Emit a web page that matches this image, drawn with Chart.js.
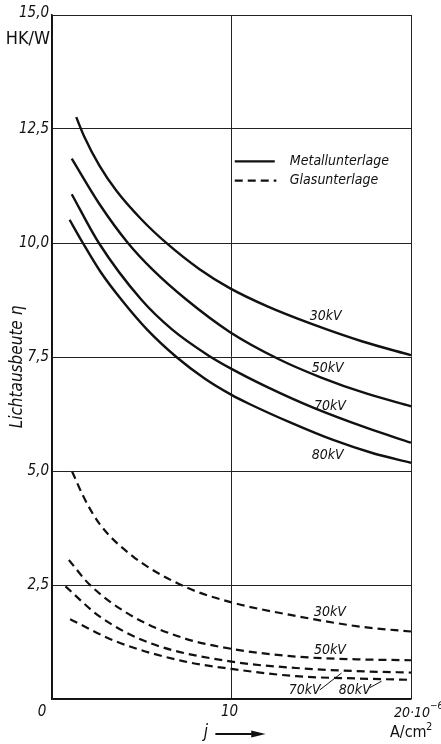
<!DOCTYPE html>
<html>
<head>
<meta charset="utf-8">
<script src="https://cdn.jsdelivr.net/npm/chart.js@4.4.1/dist/chart.umd.min.js"></script>
<style>
  html, body { margin: 0; padding: 0; background: #fff; }
  #chart { display: block; }
</style>
</head>
<body>
<canvas id="chart" width="441" height="744"></canvas>
<script>
// Lichtausbeute eta (HK/W) vs. current density j (10^-6 A/cm^2)
const kvLabels = ['30kV', '50kV', '70kV', '80kV'];

// Metallunterlage (solid)
const metall30J   = [1.35, 1.8, 2.65, 3.6, 5.0, 6.4, 8.2, 9.9, 12.0, 14.5, 17.3, 20.0];
const metall30Eta = [12.76, 12.33, 11.69, 11.14, 10.51, 9.99, 9.43, 9.01, 8.61, 8.22, 7.84, 7.54];
const metall50J   = [1.1, 2.65, 4.23, 5.62, 7.48, 9.9, 12.7, 15.0, 17.5, 20.0];
const metall50Eta = [11.85, 10.85, 10.0, 9.41, 8.76, 8.05, 7.44, 7.05, 6.7, 6.42];
const metall70J   = [1.1, 2.61, 4.97, 6.7, 8.69, 10.0, 12.0, 14.55, 17.5, 20.0];
const metall70Eta = [11.07, 10.0, 8.76, 8.1, 7.54, 7.24, 6.84, 6.39, 5.95, 5.62];
const metall80J   = [0.98, 1.72, 2.7, 3.86, 5.3, 6.93, 8.5, 10.0, 11.0, 13.3, 15.66, 17.8, 20.0];
const metall80Eta = [10.51, 10.0, 9.37, 8.76, 8.1, 7.5, 7.03, 6.67, 6.47, 6.06, 5.68, 5.4, 5.18];

// Glasunterlage (dashed)
const glas30J   = [1.12, 1.8, 2.65, 4.5, 7.3, 10.0, 13.6, 17.3, 20.0];
const glas30Eta = [4.99, 4.40, 3.84, 3.13, 2.48, 2.12, 1.82, 1.58, 1.48];
const glas50J   = [0.94, 2.09, 4.5, 7.3, 10.0, 13.6, 17.0, 20.0];
const glas50Eta = [3.05, 2.51, 1.81, 1.34, 1.1, 0.93, 0.87, 0.85];
const glas70J   = [0.75, 2.65, 5.44, 10.0, 13.6, 17.0, 20.0];
const glas70Eta = [2.47, 1.81, 1.23, 0.82, 0.68, 0.61, 0.58];
const glas80J   = [1.01, 3.58, 7.3, 10.0, 13.6, 17.0, 20.0];
const glas80Eta = [1.75, 1.26, 0.83, 0.66, 0.5, 0.45, 0.42];

const yTicks = [2.5, 5.0, 7.5, 10.0, 12.5, 15.0];
const xTickLabels = [[0, '0'], [10, '10']];

const FONT = "'DejaVu Sans Condensed', 'Liberation Sans Narrow', 'DejaVu Sans', sans-serif";
const INK = '#111';

function pts(js, etas) {
  return js.map((j, i) => ({ x: j, y: etas[i] }));
}

function curve(js, etas, dashed) {
  return {
    data: pts(js, etas),
    borderColor: INK,
    borderWidth: dashed ? 2.2 : 2.4,
    borderDash: dashed ? [8, 5] : [],
    pointRadius: 0,
    fill: false,
    cubicInterpolationMode: 'monotone'
  };
}

const datasets = [
  curve(metall30J, metall30Eta, false),
  curve(metall50J, metall50Eta, false),
  curve(metall70J, metall70Eta, false),
  curve(metall80J, metall80Eta, false),
  curve(glas30J, glas30Eta, true),
  curve(glas50J, glas50Eta, true),
  curve(glas70J, glas70Eta, true),
  curve(glas80J, glas80Eta, true)
];

// curve labels at data positions
const solidLabelPos = [[15.25, 8.4], [15.36, 7.24], [15.48, 6.41], [15.36, 5.35]];
const dashLabelPos  = [[15.48, 1.91], [15.48, 1.06], [14.08, 0.18], [16.87, 0.2]];

const annotate = {
  id: 'annotate',
  afterDraw(chart) {
    const ctx = chart.ctx;
    const xs = chart.scales.x, ys = chart.scales.y;
    const area = chart.chartArea;
    const px = v => xs.getPixelForValue(v);
    const py = v => ys.getPixelForValue(v);
    ctx.save();
    ctx.fillStyle = INK;
    ctx.strokeStyle = INK;

    // y tick labels
    ctx.font = 'italic 15px ' + FONT;
    ctx.textAlign = 'right';
    ctx.textBaseline = 'middle';
    yTicks.forEach(v => {
      const y = v === 15 ? py(v) - 2 : py(v);
      ctx.fillText(v.toFixed(1).replace('.', ','), area.left - 3, y);
    });
    ctx.font = '18px ' + FONT;
    ctx.fillText('HK/W', area.left - 2, py(15) + 24);

    // x tick labels
    ctx.font = 'italic 15px ' + FONT;
    ctx.textAlign = 'center';
    ctx.textBaseline = 'top';
    xTickLabels.forEach(([v, t]) => {
      const x = v === 0 ? px(v) - 10 : px(v) - 2;
      ctx.fillText(t, x, area.bottom + 6);
    });
    ctx.textAlign = 'left';
    ctx.font = 'italic 14px ' + FONT;
    const mainW = ctx.measureText('20·10').width;
    const x20 = px(20) - 17;
    ctx.fillText('20·10', x20, area.bottom + 7);
    ctx.font = 'italic 10px ' + FONT;
    ctx.fillText('−6', x20 + mainW, area.bottom + 2);

    // x axis title
    ctx.font = 'italic 17px ' + FONT;
    ctx.textAlign = 'left';
    ctx.fillText('j', px(8.45), area.bottom + 25);
    ctx.lineWidth = 1.8;
    ctx.beginPath();
    ctx.moveTo(px(9.1), area.bottom + 35);
    ctx.lineTo(px(11.3), area.bottom + 35);
    ctx.stroke();
    ctx.beginPath();
    ctx.moveTo(px(11.9), area.bottom + 35);
    ctx.lineTo(px(11.1), area.bottom + 31.5);
    ctx.lineTo(px(11.1), area.bottom + 38.5);
    ctx.closePath();
    ctx.fill();
    ctx.font = '16px ' + FONT;
    ctx.fillText('A/cm', px(20) - 21, area.bottom + 26);
    ctx.font = '11px ' + FONT;
    ctx.fillText('2', px(20) + 15, area.bottom + 23);

    // y axis title
    ctx.save();
    ctx.translate(18, py(7.5) + 10);
    ctx.rotate(-Math.PI / 2);
    ctx.font = 'italic 17px ' + FONT;
    ctx.textAlign = 'center';
    ctx.textBaseline = 'middle';
    ctx.fillText('Lichtausbeute \u03b7', 0, 0);
    ctx.restore();

    // legend
    ctx.lineWidth = 2.4;
    ctx.setLineDash([]);
    ctx.beginPath();
    ctx.moveTo(px(10.18), py(11.79));
    ctx.lineTo(px(12.41), py(11.79));
    ctx.stroke();
    ctx.lineWidth = 2.2;
    ctx.setLineDash([8, 5]);
    ctx.beginPath();
    ctx.moveTo(px(10.18), py(11.37));
    ctx.lineTo(px(12.5), py(11.37));
    ctx.stroke();
    ctx.setLineDash([]);
    ctx.font = 'italic 14px ' + FONT;
    ctx.textAlign = 'left';
    ctx.textBaseline = 'middle';
    ctx.fillText('Metallunterlage', px(13.25), py(11.79));
    ctx.fillText('Glasunterlage', px(13.25), py(11.37));

    // curve labels
    ctx.textAlign = 'center';
    ctx.font = 'italic 14px ' + FONT;
    solidLabelPos.forEach(([j, e], i) => ctx.fillText(kvLabels[i], px(j), py(e)));
    dashLabelPos.forEach(([j, e], i) => ctx.fillText(kvLabels[i], px(j), py(e)));

    // leader lines for 70 kV / 80 kV (Glas)
    ctx.lineWidth = 1;
    ctx.beginPath();
    ctx.moveTo(px(14.92), py(0.2));
    ctx.lineTo(px(16.13), py(0.57));
    ctx.moveTo(px(17.71), py(0.25));
    ctx.lineTo(px(18.36), py(0.39));
    ctx.stroke();
    ctx.restore();
  }
};

new Chart(document.getElementById('chart'), {
  type: 'line',
  data: { datasets },
  options: {
    responsive: false,
    devicePixelRatio: 1,
    animation: false,
    layout: { padding: { left: 52, right: 30, top: 15, bottom: 45 } },
    plugins: { legend: { display: false }, tooltip: { enabled: false } },
    scales: {
      x: {
        type: 'linear',
        min: 0,
        max: 20,
        ticks: { display: false, stepSize: 10 },
        grid: { color: '#222', lineWidth: 1, drawTicks: false },
        border: { color: INK, width: 1.5 }
      },
      y: {
        type: 'linear',
        min: 0,
        max: 15,
        ticks: { display: false, stepSize: 2.5 },
        grid: { color: '#222', lineWidth: 1, drawTicks: false },
        border: { color: INK, width: 1.5 }
      }
    }
  },
  plugins: [annotate]
});
</script>
</body>
</html>
